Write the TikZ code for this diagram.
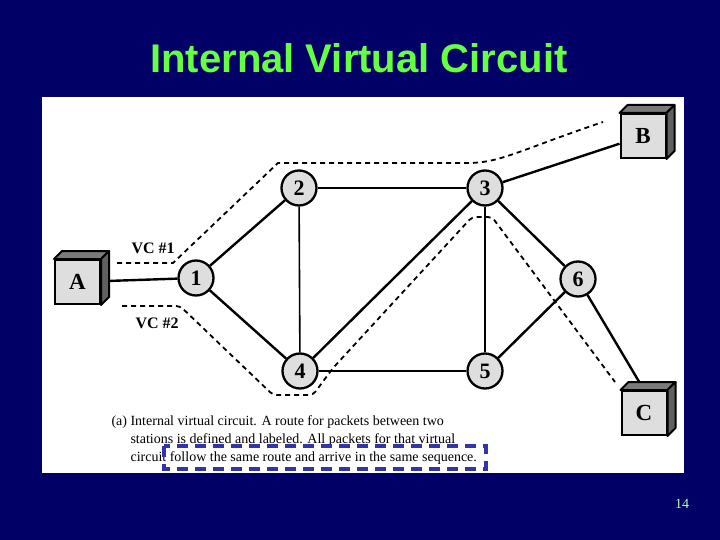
\documentclass[tikz,border=0pt]{standalone}
\usepackage{fontspec}
\setmainfont{Liberation Serif}
\newfontfamily\titlefont{Liberation Sans}
\usepackage{xcolor}
\definecolor{SlideNavy}{HTML}{000066}
\definecolor{TitleGreen}{HTML}{66FF44}
\definecolor{PageGreen}{HTML}{B8FFB8}
\definecolor{NodeGrey}{HTML}{DEDEDE}
\definecolor{BoxTop}{HTML}{7A7A7A}
\definecolor{BoxSide}{HTML}{606060}
\definecolor{MarkBlue}{HTML}{3333AA}

\tikzset{
  router/.style={circle,draw,line width=2.3pt,fill=NodeGrey,minimum size=35pt,inner sep=0pt,font=\bfseries\fontsize{22}{22}\selectfont},
  station/.style={rectangle,draw,line width=2pt,fill=NodeGrey,minimum width=45pt,minimum height=44pt,inner sep=0pt,font=\bfseries\fontsize{23}{23}\selectfont},
  boxface/.style={draw,line width=2pt,line join=round},
  link/.style={line width=2.4pt},
  thinlink/.style={line width=1.6pt},
  vcpath/.style={line width=1.8pt,dash pattern=on 5pt off 4pt},
  vclabel/.style={anchor=base west,font=\bfseries\fontsize{16}{16}\selectfont},
  captionline/.style={anchor=base west,font=\fontsize{14}{14}\selectfont},
  markbox/.style={draw=MarkBlue,line width=3.5pt,dash pattern=on 11pt off 7pt}
}

\begin{document}
\begin{tikzpicture}[x=1pt,y=-1pt]
  \fill[SlideNavy] (0,0) rectangle (720,540);
  \fill[white] (42,97) rectangle (684,473);
  \node[anchor=base,text=TitleGreen,font=\titlefont\bfseries\fontsize{40}{40}\selectfont] (title) at (359,73) {Internal Virtual Circuit};

  % routers and stations
  \node[router] (n1) at (196,278) {1};
  \node[router] (n2) at (299,188) {2};
  \node[router] (n3) at (485,188) {3};
  \node[router] (n4) at (300,371) {4};
  \node[router] (n5) at (485,371) {5};
  \node[router] (n6) at (578,279) {6};
  \node[station] (A) at (77.5,282) {A};
  \node[station] (B) at (643,136) {B};
  \node[station] (C) at (644,413) {C};

  % virtual circuits
  \draw[vcpath] (117,263) -- (173,263) -- (278,163) -- (468,163) .. controls (500,163) and (520,150) .. (603,122);
  \draw[vcpath,rounded corners=4pt] (122,306) -- (180,306) -- (273,395) -- (313,395) -- (333,368) -- (472,217) -- (492,217) -- (615,382);
  \node[vclabel] (vc1) at (128,254) {VC \#1};
  \node[vclabel] (vc2) at (132,328) {VC \#2};

  % links
  \draw[link] (A) -- (n1);
  \draw[link] (n1) -- (n2);
  \draw[link] (n1) -- (n4);
  \draw[thinlink] (n2) -- (n3);
  \draw[thinlink] (n2) -- (n4);
  \draw[link] (n3) -- (n4);
  \draw[thinlink] (n3) -- (n5);
  \draw[link] (n3) -- (n6);
  \draw[thinlink] (n4) -- (n5);
  \draw[link] (n5) -- (n6);
  \draw[link] (n3) -- (B);
  \draw[link] (n6) -- (C.north);

  % box sides
  \draw[boxface,fill=BoxTop] (A.north west) -- +(8,-8) -- ([shift={(8,-8)}]A.north east) -- (A.north east) -- cycle;
  \draw[boxface,fill=BoxSide] (A.north east) -- ([shift={(8,-8)}]A.north east) -- ([shift={(8,-8)}]A.south east) -- (A.south east) -- cycle;
  \draw[boxface,fill=BoxTop] (B.north west) -- +(8,-8) -- ([shift={(8,-8)}]B.north east) -- (B.north east) -- cycle;
  \draw[boxface,fill=BoxSide] (B.north east) -- ([shift={(8,-8)}]B.north east) -- ([shift={(8,-8)}]B.south east) -- (B.south east) -- cycle;
  \draw[boxface,fill=BoxTop] (C.north west) -- +(8,-8) -- ([shift={(8,-8)}]C.north east) -- (C.north east) -- cycle;
  \draw[boxface,fill=BoxSide] (C.north east) -- ([shift={(8,-8)}]C.north east) -- ([shift={(8,-8)}]C.south east) -- (C.south east) -- cycle;

  % caption
  \node[captionline] (cap1) at (108,425) {(a) Internal virtual circuit. A route for packets between two};
  \node[captionline] (cap2) at (127,443) {stations is defined and labeled. All packets for that virtual};
  \node[captionline] (cap3) at (127,461) {circuit follow the same route and arrive in the same sequence.};
  \draw[markbox] (164,446) rectangle (486,469);

  \node[text=PageGreen,font=\fontsize{14}{14}\selectfont] (page) at (682,504) {14};
\end{tikzpicture}
\end{document}
